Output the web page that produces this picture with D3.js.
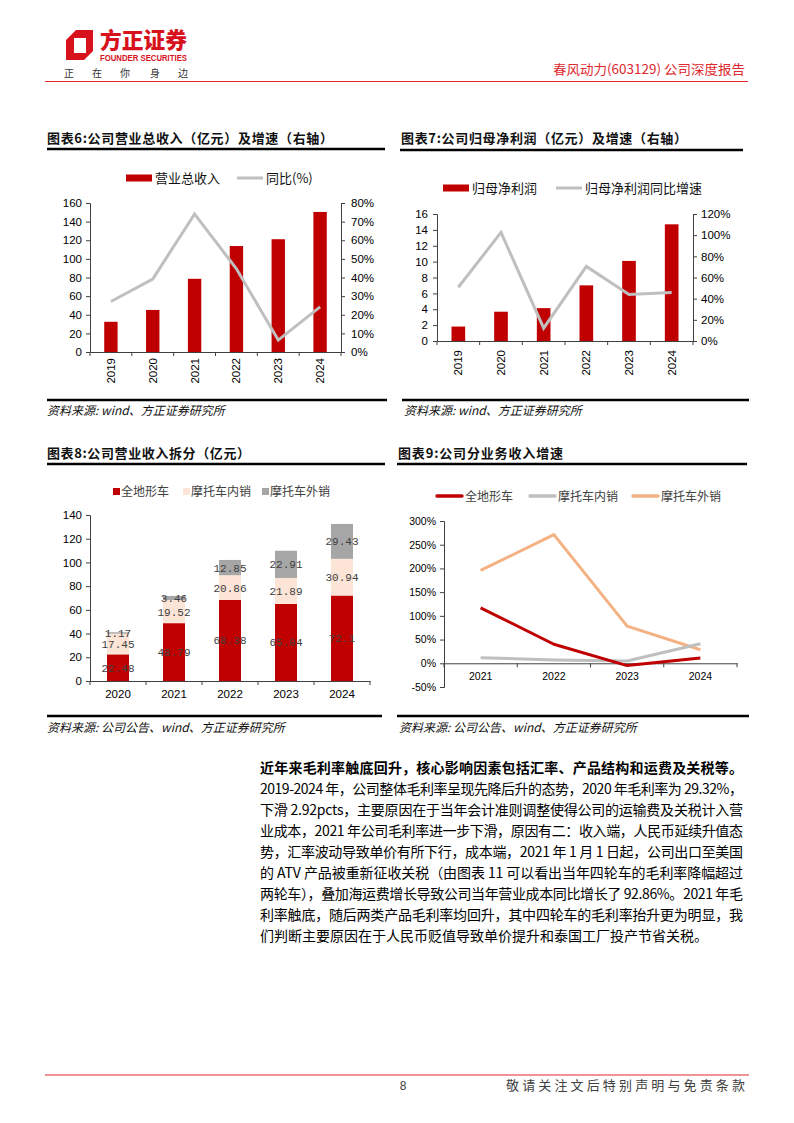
<!DOCTYPE html>
<html><head><meta charset="utf-8">
<script src="https://cdn.jsdelivr.net/npm/d3@7/dist/d3.min.js"></script>
<style>
body{margin:0;background:#fff;}
svg{display:block;}
</style></head><body>
<svg id="page" width="794" height="1123"></svg>
<script>
// ---------- DATA ----------
const years6 = ["2019","2020","2021","2022","2023","2024"];
const revenue = [32.44, 45.16, 78.61, 113.78, 121.10, 150.38];
const revenueYoY = [27.1, 39.2, 74.1, 44.7, 6.4, 24.2];
const revTicksL = [0,20,40,60,80,100,120,140,160];
const revTicksR = [0,10,20,30,40,50,60,70,80];

const years7 = ["2019","2020","2021","2022","2023","2024"];
const netProfit = [1.82, 3.69, 4.14, 7.01, 10.09, 14.70];
const netProfitYoY = [50.8, 102.6, 12.1, 70.5, 43.9, 45.8];
const npTicksL = [0,2,4,6,8,10,12,14,16];
const npTicksR = [0,20,40,60,80,100,120];

const years8 = ["2020","2021","2022","2023","2024"];
const atvRev = [22.48, 48.79, 68.38, 65.04, 72.1];
const motoDomRev = [17.45, 19.52, 20.86, 21.89, 30.94];
const motoExpRev = [1.17, 3.46, 12.85, 22.91, 29.43];
const seg8Names = ["全地形车","摩托车内销","摩托车外销"];
const seg8Ticks = [0,20,40,60,80,100,120,140];

const years9 = ["2021","2022","2023","2024"];
const atvGrowth = [117.0, 40.2, -4.9, 10.9];
const domGrowth = [11.9, 6.9, 4.9, 41.3];
const expGrowth = [195.7, 271.4, 78.3, 28.5];
const growthTicks = [-50,0,50,100,150,200,250,300];

const bodyLines = [
 "近年来毛利率触底回升，核心影响因素包括汇率、产品结构和运费及关税等。",
 "2019-2024 年，公司整体毛利率呈现先降后升的态势，2020 年毛利率为 29.32%，",
 "下滑 2.92pcts，主要原因在于当年会计准则调整使得公司的运输费及关税计入营",
 "业成本，2021 年公司毛利率进一步下滑，原因有二：收入端，人民币延续升值态",
 "势，汇率波动导致单价有所下行，成本端，2021 年 1 月 1 日起，公司出口至美国",
 "的 ATV 产品被重新征收关税（由图表 11 可以看出当年四轮车的毛利率降幅超过",
 "两轮车），叠加海运费增长导致公司当年营业成本同比增长了 92.86%。2021 年毛",
 "利率触底，随后两类产品毛利率均回升，其中四轮车的毛利率抬升更为明显，我",
 "们判断主要原因在于人民币贬值导致单价提升和泰国工厂投产节省关税。"
];

// ---------- STYLE ----------
const CJK = "'Noto Sans CJK SC','Noto Sans',sans-serif";
const NUM = "'Liberation Sans',Arial,sans-serif";
const MONO = "'Liberation Mono','DejaVu Sans Mono',monospace";
const RED = "#C00000", LGRAY = "#BFBFBF", PEACH = "#F4B183", LPEACH = "#FCE4D6", MGRAY = "#A6A6A6";
const BRAND = "#D7121D", HRED = "#E0282E", AXIS = "#404040";

const svg = d3.select("#page");

// ---------- HEADER ----------
svg.append("path")
  .attr("d","M66,40 L76,30 L93,30 L93,51 L84,60 L66,60 Z M74,38 L74,53 L86,53 L86,38 Z")
  .attr("fill",BRAND).attr("fill-rule","evenodd");
svg.append("text").attr("x",100).attr("y",48).text("方正证券")
  .attr("font-family",CJK).attr("font-weight",900).attr("font-size",22)
  .attr("fill",BRAND).attr("textLength",87).attr("lengthAdjust","spacingAndGlyphs");
svg.append("text").attr("x",100).attr("y",60.5).text("FOUNDER SECURITIES")
  .attr("font-family",NUM).attr("font-weight",700).attr("font-size",8.5)
  .attr("fill",BRAND).attr("textLength",87).attr("lengthAdjust","spacingAndGlyphs");
["正","在","你","身","边"].forEach((c,i)=>{
  svg.append("text").attr("x",[69,97,125,155,183][i]).attr("y",77).text(c)
    .attr("text-anchor","middle").attr("font-family",CJK).attr("font-size",10).attr("fill","#333");
});
svg.append("text").attr("x",745).attr("y",74).text("春风动力(603129) 公司深度报告")
  .attr("text-anchor","end").attr("font-family",CJK).attr("font-size",13).attr("fill",HRED)
  .attr("textLength",192).attr("lengthAdjust","spacingAndGlyphs");
svg.append("line").attr("x1",45).attr("x2",748).attr("y1",81.5).attr("y2",81.5)
  .attr("stroke",HRED).attr("stroke-width",1.2);

// ---------- helpers ----------
function title(x, y, txt, len, lineX1, lineX2, lineY){
  svg.append("text").attr("x",x).attr("y",y).text(txt)
    .attr("font-family",CJK).attr("font-weight",700).attr("font-size",13).attr("fill","#111")
    .attr("textLength",len).attr("lengthAdjust","spacing");
  svg.append("line").attr("x1",lineX1).attr("x2",lineX2).attr("y1",lineY).attr("y2",lineY)
    .attr("stroke","#000").attr("stroke-width",2.4);
}
function source(x, y, txt, lineX1, lineX2, lineY){
  svg.append("line").attr("x1",lineX1).attr("x2",lineX2).attr("y1",lineY).attr("y2",lineY)
    .attr("stroke","#000").attr("stroke-width",2.4);
  svg.append("text").attr("x",x).attr("y",y).text(txt)
    .attr("font-family",CJK).attr("font-style","italic").attr("font-size",12).attr("fill","#111");
}
function styleAxis(g, fs){
  g.selectAll(".domain").attr("stroke",AXIS).attr("stroke-width",1);
  g.selectAll(".tick line").attr("stroke",AXIS);
  g.selectAll("text").attr("font-family",NUM).attr("font-size",fs).attr("fill","#000");
}

// ---------- COMBO CHARTS (6 & 7) ----------
function combo(cfg){
  const g = svg.append("g");
  const x = d3.scaleBand().domain(cfg.cats).range([cfg.x0,cfg.x1]);
  const yL = d3.scaleLinear().domain(cfg.domL).range([cfg.yB,cfg.yT]);
  const yR = d3.scaleLinear().domain(cfg.domR).range([cfg.yB,cfg.yT]);
  const bw = x.bandwidth()*0.32;
  g.selectAll("rect.bar").data(cfg.bars).join("rect")
    .attr("x",(d,i)=>x(cfg.cats[i])+x.bandwidth()/2-bw/2)
    .attr("y",d=>yL(d)).attr("width",bw).attr("height",d=>yL(0)-yL(d))
    .attr("fill",RED);
  const axL = g.append("g").attr("transform",`translate(${cfg.x0},0)`)
    .call(d3.axisLeft(yL).tickValues(cfg.ticksL).tickSize(4).tickPadding(cfg.padL).tickFormat(d3.format("d")));
  styleAxis(axL, 11.5);
  const axR = g.append("g").attr("transform",`translate(${cfg.x1},0)`)
    .call(d3.axisRight(yR).tickValues(cfg.ticksR).tickSize(4).tickPadding(cfg.padR).tickFormat(d=>d+"%"));
  styleAxis(axR, 11.5);
  const axB = g.append("g").attr("transform",`translate(0,${cfg.yB})`)
    .call(d3.axisBottom(x).tickSize(0).tickFormat(""));
  styleAxis(axB, 11);
  const bounds = cfg.cats.map(c=>x(c)).concat([cfg.x1]);
  g.selectAll("line.bt").data(bounds).join("line")
    .attr("x1",d=>d).attr("x2",d=>d).attr("y1",cfg.yB).attr("y2",cfg.yB+4).attr("stroke",AXIS);
  g.selectAll("text.xl").data(cfg.cats).join("text")
    .attr("transform",d=>`translate(${x(d)+x.bandwidth()/2+4},${cfg.yB+cfg.labOff}) rotate(-90)`)
    .attr("text-anchor","end").attr("font-family",NUM).attr("font-size",11.5).text(d=>d);
  const line = d3.line().x((d,i)=>x(cfg.cats[i])+x.bandwidth()/2).y(d=>yR(d));
  g.append("path").datum(cfg.line).attr("d",line).attr("fill","none")
    .attr("stroke",LGRAY).attr("stroke-width",3).attr("stroke-linejoin","miter");
  const L = cfg.legend;
  g.append("rect").attr("x",L.rx).attr("y",L.y-3.5).attr("width",26).attr("height",7).attr("fill",RED);
  g.append("text").attr("x",L.rx+29).attr("y",L.y+4.5).text(L.t1)
    .attr("font-family",CJK).attr("font-size",13).attr("fill","#111");
  g.append("line").attr("x1",L.lx).attr("x2",L.lx+26).attr("y1",L.y).attr("y2",L.y)
    .attr("stroke",LGRAY).attr("stroke-width",3);
  g.append("text").attr("x",L.lx+29).attr("y",L.y+4.5).text(L.t2)
    .attr("font-family",CJK).attr("font-size",13).attr("fill","#111");
}

title(47,143,"图表6:公司营业总收入（亿元）及增速（右轴）",286,47,385,149);
combo({cats:years6,bars:revenue,line:revenueYoY,x0:90,x1:341,yT:203,yB:352,
  domL:[0,160],domR:[0,80],ticksL:revTicksL,ticksR:revTicksR,padL:4,padR:6,labOff:6,
  legend:{rx:126,lx:237,y:178,t1:"营业总收入",t2:"同比(%)"}});
source(47,415,"资料来源: wind、方正证券研究所",47,387,400);

title(401,143,"图表7:公司归母净利润（亿元）及增速（右轴）",286,400,743,150);
combo({cats:years7,bars:netProfit,line:netProfitYoY,x0:437,x1:693,yT:214,yB:341,
  domL:[0,16],domR:[0,120],ticksL:npTicksL,ticksR:npTicksR,padL:5,padR:4,labOff:9,
  legend:{rx:443,lx:556,y:188,t1:"归母净利润",t2:"归母净利润同比增速"}});
source(404,415,"资料来源: wind、方正证券研究所",402,749,400);

// ---------- CHART 8: stacked ----------
(function(){
  const g = svg.append("g");
  const table = years8.map((y,i)=>({year:y, a:atvRev[i], b:motoDomRev[i], c:motoExpRev[i]}));
  const keys = ["a","b","c"], colors = [RED, LPEACH, MGRAY];
  const stack = d3.stack().keys(keys)(table);
  const x = d3.scaleBand().domain(years8).range([90,370]);
  const y = d3.scaleLinear().domain([0,140]).range([681,515]);
  const bw = 22;
  stack.forEach((layer,k)=>{
    g.selectAll(null).data(layer).join("rect")
      .attr("x",d=>x(d.data.year)+x.bandwidth()/2-bw/2).attr("width",bw)
      .attr("y",d=>y(d[1])).attr("height",d=>y(d[0])-y(d[1])).attr("fill",colors[k]);
  });
  stack.forEach((layer,k)=>{
    g.selectAll(null).data(layer).join("text")
      .attr("x",d=>x(d.data.year)+x.bandwidth()/2).attr("y",d=>y((d[0]+d[1])/2)+4)
      .attr("text-anchor","middle").attr("font-family",MONO).attr("font-size",11)
      .attr("fill","#404040").text(d=>d.data[keys[k]]);
  });
  const axL = g.append("g").attr("transform","translate(90,0)")
    .call(d3.axisLeft(y).tickValues(seg8Ticks).tickSize(4).tickPadding(4));
  styleAxis(axL, 11.5);
  const axB = g.append("g").attr("transform","translate(0,681)")
    .call(d3.axisBottom(x).tickSize(0).tickPadding(9));
  styleAxis(axB, 11.5);
  const bounds = years8.map(c=>x(c)).concat([370]);
  g.selectAll("line.bt").data(bounds).join("line")
    .attr("x1",d=>d).attr("x2",d=>d).attr("y1",681).attr("y2",685).attr("stroke",AXIS);
  const lx = [113,183,262];
  seg8Names.forEach((n,i)=>{
    g.append("rect").attr("x",lx[i]).attr("y",488).attr("width",7).attr("height",7).attr("fill",colors[i]);
    g.append("text").attr("x",lx[i]+8).attr("y",496).text(n)
      .attr("font-family",CJK).attr("font-size",12).attr("fill","#404040");
  });
})();
title(47,458,"图表8:公司营业收入拆分（亿元）",203,47,385,464);
source(47,732,"资料来源: 公司公告、wind、方正证券研究所",47,382,716);

// ---------- CHART 9: lines ----------
(function(){
  const g = svg.append("g");
  const x = d3.scaleBand().domain(years9).range([444,737]);
  const y = d3.scaleLinear().domain([-50,300]).range([687,521]);
  const axL = g.append("g").attr("transform","translate(444,0)")
    .call(d3.axisLeft(y).tickValues(growthTicks).tickSize(4).tickPadding(4).tickFormat(d=>d+"%"));
  styleAxis(axL, 10.5);
  const axB = g.append("g").attr("transform",`translate(0,${y(0)})`)
    .call(d3.axisBottom(x).tickSize(0).tickPadding(9));
  styleAxis(axB, 10.5);
  const bounds = years9.map(c=>x(c)).concat([737]);
  g.selectAll("line.bt").data(bounds).join("line")
    .attr("x1",d=>d).attr("x2",d=>d).attr("y1",y(0)).attr("y2",y(0)+4).attr("stroke",AXIS);
  const series = [
    {name:"全地形车", vals:atvGrowth, color:RED, lx:437},
    {name:"摩托车内销", vals:domGrowth, color:LGRAY, lx:530},
    {name:"摩托车外销", vals:expGrowth, color:PEACH, lx:633}
  ];
  const line = d3.line().x((d,i)=>x(years9[i])+x.bandwidth()/2).y(d=>y(d));
  [series[2], series[1], series[0]].forEach(s=>{
    g.append("path").datum(s.vals).attr("d",line).attr("fill","none")
      .attr("stroke",s.color).attr("stroke-width",3).attr("stroke-linejoin","round");
  });
  series.forEach(s=>{
    g.append("line").attr("x1",s.lx).attr("x2",s.lx+25).attr("y1",496).attr("y2",496)
      .attr("stroke",s.color).attr("stroke-width",3.5).attr("stroke-linecap","round");
    g.append("text").attr("x",s.lx+28).attr("y",500.5).text(s.name)
      .attr("font-family",CJK).attr("font-size",12).attr("fill","#404040");
  });
})();
title(398,458,"图表9:公司分业务收入增速",165,397,747,464);
source(399,732,"资料来源: 公司公告、wind、方正证券研究所",397,749,716);

// ---------- BODY TEXT ----------
bodyLines.forEach((t,i)=>{
  const el = svg.append("text").attr("x",260).attr("y",773+i*21).text(t)
    .attr("font-family",CJK).attr("font-size",14).attr("fill","#000")
    .attr("font-weight", i===0?700:400);
  if(i < bodyLines.length-1) el.attr("textLength",483).attr("lengthAdjust","spacing");
});

// ---------- FOOTER ----------
svg.append("line").attr("x1",45).attr("x2",749).attr("y1",1075).attr("y2",1075)
  .attr("stroke",HRED).attr("stroke-width",1.2);
svg.append("text").attr("x",403).attr("y",1090).text("8").attr("text-anchor","middle")
  .attr("font-family",NUM).attr("font-size",12).attr("fill","#404040");
svg.append("text").attr("x",506).attr("y",1090).text("敬请关注文后特别声明与免责条款")
  .attr("font-family",CJK).attr("font-size",13).attr("fill","#404040")
  .attr("textLength",239).attr("lengthAdjust","spacing");
</script>
</body></html>
